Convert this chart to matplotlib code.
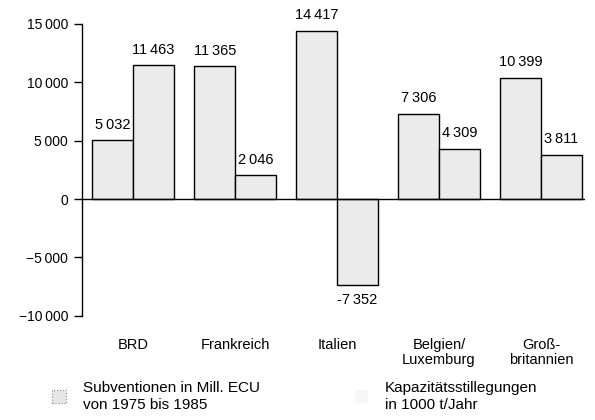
import numpy as np
import matplotlib.pyplot as plt
from matplotlib.patches import Patch

plt.rcParams['font.family'] = ['Liberation Sans', 'DejaVu Sans']

laender = ['BRD', 'Frankreich', 'Italien', 'Belgien/\nLuxemburg', 'Groß-\nbritannien']
subventionen = [5032, 11365, 14417, 7306, 10399]
stillegungen = [11463, 2046, -7352, 4309, 3811]
y_ticks = [-10000, -5000, 0, 5000, 10000, 15000]
legend_labels = ['Subventionen in Mill. ECU\nvon 1975 bis 1985',
                 'Kapazitätsstillegungen\nin 1000 t/Jahr']


def fmt(v, minus='-'):
    s = f'{abs(v):,}'.replace(',', '\u2009')
    return (minus + s) if v < 0 else s


fig = plt.figure(figsize=(5.95, 4.2), dpi=100)
ax = fig.add_axes([0.138, 0.248, 0.845, 0.695])

x = np.arange(len(laender))
w = 0.4
bars1 = ax.bar(x - w / 2, subventionen, w, color='#ebebeb', edgecolor='black', linewidth=1)
bars2 = ax.bar(x + w / 2, stillegungen, w, color='#ebebeb', edgecolor='black', linewidth=1)

for bars, vals in [(bars1, subventionen), (bars2, stillegungen)]:
    for b, v in zip(bars, vals):
        cx = b.get_x() + b.get_width() / 2
        if v >= 0:
            ax.annotate(fmt(v), (cx, v), xytext=(0, 6), textcoords='offset points',
                        ha='center', va='bottom', fontsize=10.5, clip_on=False)
        else:
            ax.annotate(fmt(v), (cx, v), xytext=(0, -6), textcoords='offset points',
                        ha='center', va='top', fontsize=10.5, clip_on=False)

ax.axhline(0, color='black', linewidth=1)
ax.set_xlim(-0.5, 4.43)
ax.set_ylim(-10000, 15000)
ax.set_yticks(y_ticks)
ax.set_yticklabels([fmt(t, '\u2212') for t in y_ticks], fontsize=10)
ax.set_xticks(x)
ax.set_xticklabels(laender, fontsize=10.5, linespacing=1.05)
ax.tick_params(axis='x', length=0, pad=16)
ax.tick_params(axis='y', length=6, width=1, direction='out', pad=4)

for s in ['top', 'right', 'bottom']:
    ax.spines[s].set_visible(False)
ax.spines['left'].set_linewidth(1)

handles = [Patch(facecolor='#e6e6e6', edgecolor='#888888', linestyle=':', linewidth=0.8),
           Patch(facecolor='#f6f6f6', edgecolor='none')]
fig.legend(handles, legend_labels, loc='upper left', bbox_to_anchor=(0.075, 0.11),
           ncol=2, frameon=False, fontsize=11, handlelength=0.9, handleheight=0.9,
           handletextpad=1.1, columnspacing=6.2, borderpad=0, labelspacing=0)

fig.savefig('out.png', dpi=100)
